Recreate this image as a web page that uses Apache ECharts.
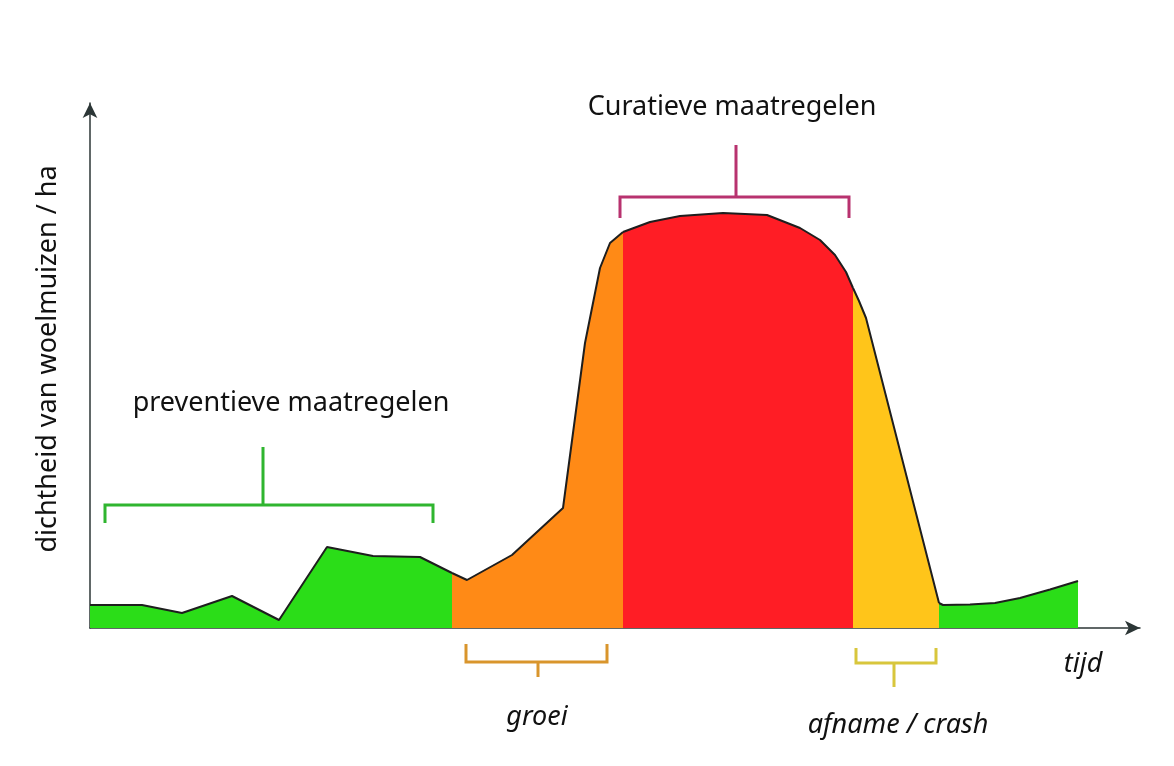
<!DOCTYPE html>
<html>
<head>
<meta charset="utf-8">
<script src="https://cdn.jsdelivr.net/npm/echarts@6/dist/echarts.min.js"></script>
<style>html,body{margin:0;padding:0;background:#fff}#c{width:1174px;height:766px}</style>
</head>
<body>
<div id="c"></div>
<script>
// time (x) and density (y) in arbitrary units
const greenStart = [[0,4.6],[5.2,4.6],[9.2,3.0],[14.2,6.4],[18.9,1.6],[23.7,16.2],[28.3,14.4],[33.0,14.2],[36.2,11.0]];
const orangeGrowth = [[36.2,11.0],[37.7,9.6],[42.2,14.6],[47.3,24.0],[49.5,57.0],[51.0,72.0],[52.0,77.0],[53.3,79.2]];
const redPeak = [[53.3,79.2],[56.0,81.2],[59.0,82.4],[63.3,83.0],[67.7,82.6],[71.0,80.0],[73.0,77.6],[74.5,74.6],[75.6,71.2],[76.3,68.0]];
const yellowCrash = [[76.3,68.0],[76.9,65.4],[77.6,62.0],[84.9,5.0]];
const greenEnd = [[84.9,5.0],[85.3,4.6],[88.0,4.7],[90.5,5.0],[93.0,6.0],[96.0,7.7],[98.8,9.4]];

// annotation brackets (data units)
const bracketPreventief = [[1.5,21],[1.5,24.6],[17.3,24.6],[17.3,36.2],[17.3,24.6],[34.3,24.6],[34.3,21]];
const bracketCuratief = [[53.0,82],[53.0,86.2],[64.6,86.2],[64.6,96.6],[64.6,86.2],[75.9,86.2],[75.9,82]];
const bracketGroei = [[37.6,-3.2],[37.6,-6.8],[44.8,-6.8],[44.8,-9.8],[44.8,-6.8],[51.7,-6.8],[51.7,-3.2]];
const bracketAfname = [[76.6,-4],[76.6,-7],[80.4,-7],[80.4,-11.8],[80.4,-7],[84.6,-7],[84.6,-4]];

const labels = {
  curatief: 'Curatieve maatregelen',
  preventief: 'preventieve maatregelen',
  groei: 'groei',
  afname: 'afname / crash',
  tijd: 'tijd',
  yName: 'dichtheid van woelmuizen / ha'
};

const chart = echarts.init(document.getElementById('c'));
const FONT = 'Noto Sans';
function area(data, color) {
  return {
    type: 'line', data: data, showSymbol: false, silent: true,
    lineStyle: { color: '#1e1e1e', width: 2 },
    areaStyle: { color: color, opacity: 1 },
    z: 2
  };
}
function bracket(data, color) {
  return {
    type: 'line', data: data, showSymbol: false, silent: true, clip: false,
    lineStyle: { color: color, width: 3, cap: 'butt', join: 'miter' },
    z: 3
  };
}
chart.setOption({
  animation: false,
  grid: { left: 90, right: 34, top: 103, bottom: 138 },
  xAxis: {
    type: 'value', min: 0, max: 105,
    axisLine: { show: true, lineStyle: { color: '#2c3636', width: 1.5 }, symbol: ['none', 'arrow'], symbolSize: [11, 15] },
    axisTick: { show: false }, axisLabel: { show: false }, splitLine: { show: false }
  },
  yAxis: {
    type: 'value', min: 0, max: 105,
    axisLine: { show: true, onZero: false, lineStyle: { color: '#2c3636', width: 1.5 }, symbol: ['none', 'arrow'], symbolSize: [11, 15] },
    axisTick: { show: false }, axisLabel: { show: false }, splitLine: { show: false }
  },
  series: [
    area(greenStart, '#2bdd18'),
    area(orangeGrowth, '#ff8a16'),
    area(redPeak, '#ff1d25'),
    area(yellowCrash, '#ffc51a'),
    area(greenEnd, '#2bdd18'),
    bracket(bracketPreventief, '#2fb52f'),
    bracket(bracketCuratief, '#b8326f'),
    bracket(bracketGroei, '#d9952c'),
    bracket(bracketAfname, '#d8c63c')
  ],
  graphic: [
    { type: 'text', x: 732, y: 107, style: { text: labels.curatief, font: '27px "' + FONT + '"', fill: '#111', align: 'center', verticalAlign: 'middle' } },
    { type: 'text', x: 291, y: 403, style: { text: labels.preventief, font: '27px "' + FONT + '"', fill: '#111', align: 'center', verticalAlign: 'middle' } },
    { type: 'text', x: 537, y: 717, style: { text: labels.groei, font: 'italic 27px "' + FONT + '"', fill: '#111', align: 'center', verticalAlign: 'middle' } },
    { type: 'text', x: 898, y: 725, style: { text: labels.afname, font: 'italic 27px "' + FONT + '"', fill: '#111', align: 'center', verticalAlign: 'middle' } },
    { type: 'text', x: 1083, y: 664, style: { text: labels.tijd, font: 'italic 27px "' + FONT + '"', fill: '#111', align: 'center', verticalAlign: 'middle' } },
    { type: 'text', x: 48, y: 359, rotation: Math.PI / 2, style: { text: labels.yName, font: '27px "' + FONT + '"', fill: '#111', align: 'center', verticalAlign: 'middle' } }
  ]
});
</script>
</body>
</html>
